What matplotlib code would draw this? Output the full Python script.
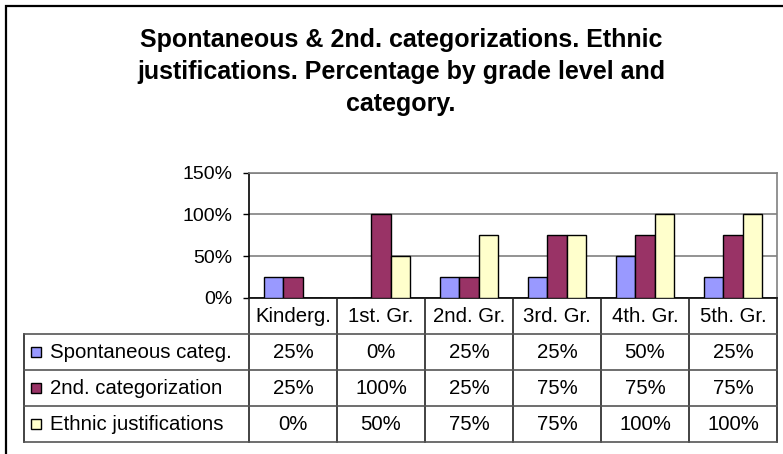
import numpy as np
import matplotlib.pyplot as plt
from matplotlib.patches import Rectangle

plt.rcParams['font.family'] = ['Liberation Sans', 'DejaVu Sans']

TITLE = "Spontaneous & 2nd. categorizations. Ethnic\njustifications. Percentage by grade level and\ncategory."
GRADES = ["Kinderg.", "1st. Gr.", "2nd. Gr.", "3rd. Gr.", "4th. Gr.", "5th. Gr."]
SERIES = ["Spontaneous categ.", "2nd. categorization", "Ethnic justifications"]
spontaneous = [25, 0, 25, 25, 50, 25]
second_cat = [25, 100, 25, 75, 75, 75]
ethnic = [0, 50, 75, 75, 100, 100]
COLORS = ["#9999FF", "#993366", "#FFFFCC"]

W, H = 783, 454
fig = plt.figure(figsize=(W / 100, H / 100), dpi=100)


def px_box(x0, y0, x1, y1):
    # pixel box (top-left origin) -> figure fraction [l, b, w, h]
    return [x0 / W, 1 - y1 / H, (x1 - x0) / W, (y1 - y0) / H]


# outer chart frame (right/bottom edges fall outside the picture)
fig.add_artist(Rectangle((6 / W, -0.1), 1.2, 1 - 6 / H + 0.1, transform=fig.transFigure,
                         fill=False, edgecolor="black", linewidth=1.6))

fig.text(401 / W, 1 - 72 / H, TITLE, ha="center", va="center", fontsize=18,
         fontweight="bold", linespacing=1.43)

# bar chart
ax = fig.add_axes(px_box(249, 172.5, 777, 298))
values = [spontaneous, second_cat, ethnic]
x = np.arange(len(GRADES))
bw = 0.216
for i, (vals, col) in enumerate(zip(values, COLORS)):
    ax.bar(x + (i - 1) * bw, vals, bw, color=col, edgecolor="black", linewidth=1, zorder=3)

ax.set_xlim(-0.5, len(GRADES) - 0.5)
ax.set_ylim(0, 150)
ax.set_yticks([0, 50, 100, 150])
ax.set_yticklabels([f"{v}%" for v in [0, 50, 100, 150]], fontsize=14)
ax.set_xticks([])
ax.grid(axis="y", color="#808080", linewidth=1.2, zorder=0)
ax.tick_params(axis="y", length=4.3, width=1, pad=7.5)
ax.spines["left"].set_color("black")
ax.spines["bottom"].set_color("black")
ax.spines["top"].set_color("#808080")
ax.spines["right"].set_color("#808080")
for s in ax.spines.values():
    s.set_linewidth(1.2)

# data table beneath the plot
cw = (777 - 249) / len(GRADES)
left_units = (249 - 24) / cw
tx = fig.add_axes(px_box(24, 298, 777, 442))
tx.set_xlim(-0.5 - left_units, len(GRADES) - 0.5)
tx.set_ylim(4, 0)
tx.axis("off")

lc_v = "#222222"
lc_h = "#555555"
x_left = -0.5 - left_units
x_right = len(GRADES) - 0.5
for k in range(len(GRADES) + 1):
    tx.plot([k - 0.5, k - 0.5], [0, 4], color=lc_v, lw=1.2, clip_on=False)
tx.plot([x_left, x_left], [1, 4], color=lc_v, lw=1.2, clip_on=False)
for r in range(1, 5):
    tx.plot([x_left, x_right], [r, r], color=lc_h, lw=1.2, clip_on=False)

for k, g in enumerate(GRADES):
    tx.text(k, 0.5, g, ha="center", va="center", fontsize=14.7)

for r, (name, vals, col) in enumerate(zip(SERIES, values, COLORS)):
    y = r + 1.5
    tx.plot([x_left + 11.5 / cw], [y], marker="s", markersize=6.5, markerfacecolor=col,
            markeredgecolor="black", markeredgewidth=1, clip_on=False)
    tx.text(x_left + 26 / cw, y, name, ha="left", va="center", fontsize=14.7)
    for k, v in enumerate(vals):
        tx.text(k, y, f"{v}%", ha="center", va="center", fontsize=14.7)

fig.savefig("out.png", dpi=100)
